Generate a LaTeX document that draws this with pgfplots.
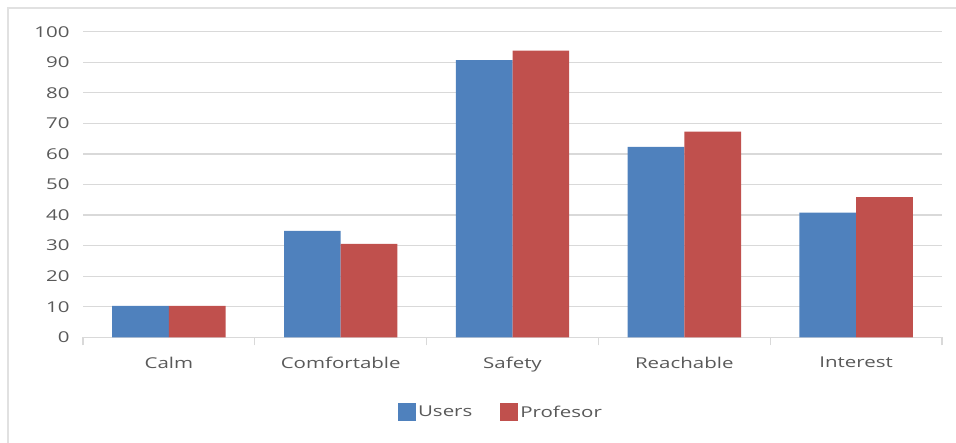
\documentclass[border=0pt]{standalone}
\usepackage{graphicx}
\usepackage{pgfplots}
\pgfplotsset{compat=1.18}
\usepackage{fontspec}
\setmainfont{Open Sans}
\definecolor{users}{HTML}{4F81BD}
\definecolor{prof}{HTML}{C0504D}
\definecolor{txt}{HTML}{595959}
\definecolor{grd}{HTML}{D9D9D9}
% the reference text is stretched sideways
\newcommand{\wide}[1]{\scalebox{1.37}[1]{#1}}
\begin{document}
\begin{tikzpicture}
\useasboundingbox (-83bp,-105.7bp) rectangle (873bp,337.3bp);
\draw[grd!80, line width=1.5bp] (-75bp,-105.7bp) -- (-75bp,329.3bp) -- (873bp,329.3bp);
\begin{axis}[
 at={(0,0)}, anchor=south west,
 scale only axis, width=859bp, height=305.6bp,
 ybar=0pt, bar width=56.7bp,
 ymin=0, ymax=100, ytick={0,10,...,100},
 xmin=-0.5, xmax=4.5,
 xtick={0,1,2,3,4},
 xticklabels={\wide{Calm},\wide{Comfortable},\wide{Safety},\wide{Reachable},\wide{Interest}},
 yticklabel={\wide{\pgfmathprintnumber{\tick}}},
 extra x ticks={-0.5,0.5,1.5,2.5,3.5,4.5},
 extra x tick labels={},
 extra x tick style={major tick length=8bp, tick style={grd, line width=1.2bp}, grid=none},
 major tick length=0pt,
 axis x line*=bottom, axis y line*=left,
 x axis line style={grd, line width=1.2bp, -},
 y axis line style={draw=none},
 tick align=outside,
 ymajorgrids, grid style={grd, line width=1.2bp},
 /pgf/number format/assume math mode=true,
 ticklabel style={font=\fontsize{15}{17}\selectfont, text=txt},
 yticklabel style={xshift=-10bp},
 xticklabel style={yshift=-16bp},
 legend style={at={(0.4866,-0.245)}, anchor=center, draw=none, legend columns=-1,
   font=\fontsize{15}{17}\selectfont, text=txt,
   /tikz/every even column/.append style={column sep=26bp}},
 legend image code/.code={\fill[#1] (0bp,-9bp) rectangle (18bp,9bp);},
]
\addplot[fill=users, draw=none] coordinates {(0,10.3) (1,34.8) (2,90.7) (3,62.3) (4,40.8)};
\addplot[fill=prof, draw=none] coordinates {(0,10.3) (1,30.6) (2,93.8) (3,67.3) (4,45.9)};
\legend{\wide{Users},\wide{Profesor}}
\end{axis}
\end{tikzpicture}
\end{document}
